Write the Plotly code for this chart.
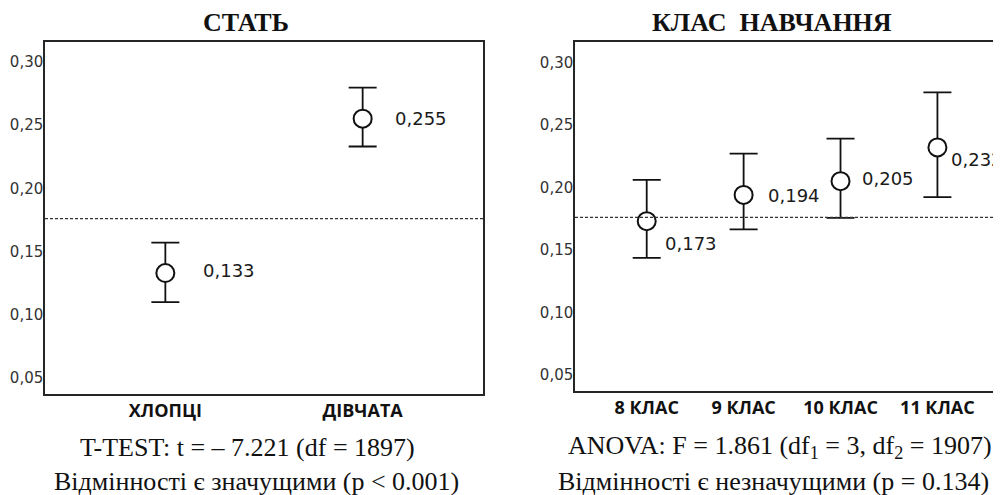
import plotly.graph_objects as go

# ---- data ----
sex_categories = ["ХЛОПЦІ", "ДІВЧАТА"]
sex_means = [0.133, 0.255]
sex_ci_low = [0.110, 0.233]
sex_ci_high = [0.157, 0.2795]

grade_categories = ["8 КЛАС", "9 КЛАС", "10 КЛАС", "11 КЛАС"]
grade_means = [0.173, 0.194, 0.205, 0.232]
grade_ci_low = [0.1436, 0.1665, 0.1757, 0.1923]
grade_ci_high = [0.206, 0.227, 0.239, 0.276]

grand_mean = 0.176
y_ticks = [0.05, 0.10, 0.15, 0.20, 0.25, 0.30]

title_left = "СТАТЬ"
title_right = "КЛАС  НАВЧАННЯ"
note_left = ["T-TEST: t = – 7.221 (df = 1897)", "Відмінності є значущими (p < 0.001)"]
note_right = ["ANOVA: F = 1.861 (df<sub>1</sub> = 3, df<sub>2</sub> = 1907)",
              "Відмінності є незначущими (p = 0.134)"]

# label offsets (px) for value labels
sex_label_shift = [(37, 3), (31, 0)]
grade_label_shift = [(17, -22), (23, -1), (20, 3), (13, -12)]

# The page body has an 8px default margin: the figure is placed at (8, 8)
OFF = 8
W, H = 1001 - OFF, 495 - OFF
LINE = "#262626"
SANS = "DejaVu Sans"
SERIF = "Liberation Serif, Times New Roman, serif"

fig = go.Figure()


def add_panel(cats, means, lo, hi, xa, ya):
    fig.add_trace(go.Scatter(
        x=cats, y=means, mode="markers", xaxis=xa, yaxis=ya,
        marker=dict(symbol="circle", size=18, color="white",
                    line=dict(color="#111", width=2)),
        error_y=dict(type="data", symmetric=False,
                     array=[h - m for h, m in zip(hi, means)],
                     arrayminus=[m - l for m, l in zip(means, lo)],
                     color="#111", thickness=1.8, width=14),
        showlegend=False, hoverinfo="skip"))


add_panel(sex_categories, sex_means, sex_ci_low, sex_ci_high, "x", "y")
add_panel(grade_categories, grade_means, grade_ci_low, grade_ci_high, "x2", "y2")

annotations = []
for c, m, (dx, dy) in zip(sex_categories, sex_means, sex_label_shift):
    annotations.append(dict(x=c, y=m, xref="x", yref="y", text=f"{m:.3f}".replace(".", ","),
                            showarrow=False, xanchor="left", yanchor="middle",
                            xshift=dx - 1, yshift=dy,
                            font=dict(family=SANS, size=18, color="#1a1a1a")))
for c, m, (dx, dy) in zip(grade_categories, grade_means, grade_label_shift):
    annotations.append(dict(x=c, y=m, xref="x2", yref="y2", text=f"{m:.3f}".replace(".", ","),
                            showarrow=False, xanchor="left", yanchor="middle",
                            xshift=dx - 1, yshift=dy,
                            font=dict(family=SANS, size=18, color="#1a1a1a")))


def paper_x(px):
    return (px - OFF) / W


def paper_y(py):
    return 1 - (py - OFF) / H


annotations += [
    dict(x=paper_x(246), y=paper_y(23), text=f"<b>{title_left}</b>"),
    dict(x=paper_x(772), y=paper_y(23), text=f"<b>{title_right}</b>"),
    dict(x=paper_x(247), y=paper_y(447), text=note_left[0]),
    dict(x=paper_x(256), y=paper_y(481), text=note_left[1]),
    dict(x=paper_x(780), y=paper_y(447), text=note_right[0]),
    dict(x=paper_x(773), y=paper_y(481), text=note_right[1]),
]
for a in annotations[-6:]:
    a.update(xref="paper", yref="paper", showarrow=False, xanchor="center", yanchor="middle",
             font=dict(family=SERIF, size=26, color="#111"))

shapes = [
    dict(type="line", xref="x domain", yref="y", x0=0, x1=1, y0=grand_mean, y1=grand_mean,
         line=dict(color="#333", width=1.2, dash="3px,2px")),
    dict(type="line", xref="x2 domain", yref="y2", x0=0, x1=1, y0=grand_mean, y1=grand_mean,
         line=dict(color="#333", width=1.2, dash="3px,2px")),
]

yaxis_common = dict(tickvals=y_ticks, tickformat=".2f", ticks="", showgrid=False,
                    zeroline=False, showline=True, linecolor=LINE, linewidth=1.5,
                    tickfont=dict(family=SANS, size=15, color="#333"), ticklabelstandoff=-3)
xaxis_common = dict(type="category", ticks="", showgrid=False, zeroline=False,
                    showline=True, linecolor=LINE, linewidth=1.5, mirror=True,
                    tickfont=dict(family="Open Sans", size=18, color="#111"),
                    ticklabelstandoff=0)

fig.update_layout(
    width=W, height=H,
    margin=dict(l=0, r=0, t=0, b=0),
    paper_bgcolor="white", plot_bgcolor="white",
    separators=", ",
    xaxis=dict(domain=[paper_x(45), paper_x(483)], range=[-0.61, 1.61], anchor="y",
               categoryorder="array", categoryarray=sex_categories,
               ticktext=[f"<b>{c}</b>" for c in sex_categories], tickvals=sex_categories,
               **xaxis_common),
    yaxis=dict(domain=[paper_y(394), paper_y(42)], range=[0.0374, 0.3156], anchor="x",
               mirror=True, **yaxis_common),
    xaxis2=dict(domain=[paper_x(575), 1.0], range=[-0.74, 3.656], anchor="y2",
                categoryorder="array", categoryarray=grade_categories,
                ticktext=[f"<b>{c}</b>" for c in grade_categories], tickvals=grade_categories,
                **xaxis_common),
    yaxis2=dict(domain=[paper_y(391), paper_y(42)], range=[0.0372, 0.3163], anchor="x2",
                mirror=False, **yaxis_common),
    annotations=annotations,
    shapes=shapes,
)

fig.write_html("out.html")
